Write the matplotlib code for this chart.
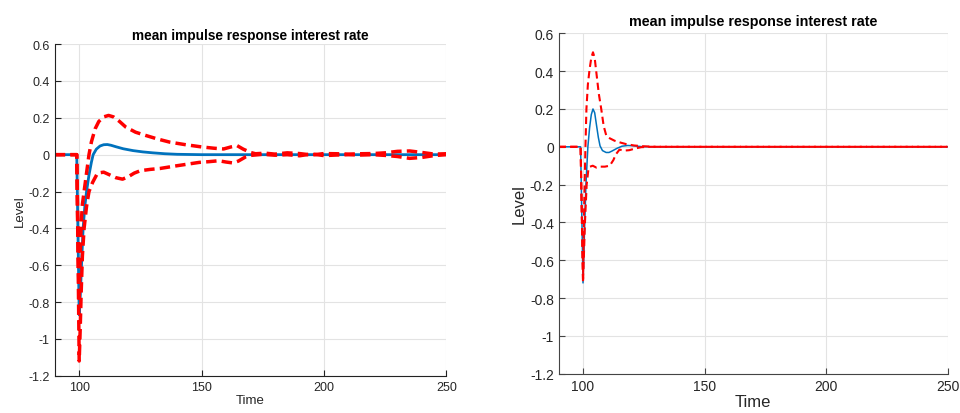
import matplotlib
matplotlib.use('Agg')
import matplotlib.pyplot as plt

BLUE = '#0072BD'
RED = '#FF0000'

# left panel
left_mean_t = [90, 99, 100, 100.5, 101, 101.6, 102.3, 103, 104, 105, 105.7, 107, 108.5, 110,
               111.5, 113, 115, 118, 122, 126, 130, 135, 140, 150, 250]
left_mean = [0, 0, -0.87, -0.75, -0.58, -0.4, -0.28, -0.2, -0.11, -0.04, 0, 0.03, 0.047, 0.054,
             0.055, 0.051, 0.043, 0.032, 0.022, 0.015, 0.01, 0.005, 0.002, 0.0, 0.0]

left_upper_t = [90, 99, 99.6, 100, 100.4, 100.8, 101.3, 102, 103, 104, 105, 106.5, 108, 110, 112,
                114, 116.5, 119, 123, 127, 132, 137, 143, 150, 155, 159, 162, 164.5, 167, 170,
                172, 176, 180, 185, 190, 195, 200, 205, 210, 215, 220, 225, 230, 235, 240, 245, 250]
left_upper = [0, 0, -0.55, -0.8, -0.55, -0.38, -0.27, -0.2, -0.1, 0, 0.07, 0.14, 0.18, 0.205, 0.213,
              0.205, 0.18, 0.15, 0.122, 0.105, 0.085, 0.068, 0.055, 0.042, 0.035, 0.031, 0.042, 0.049,
              0.03, 0.012, 0.005, 0.008, 0.003, 0.01, 0.006, -0.002, 0.006, 0.005, 0.003, 0.005,
              0.006, 0.01, 0.018, 0.02, 0.012, 0.003, 0.005]

left_lower_t = [90, 99, 99.5, 100, 100.4, 100.8, 101.3, 102, 103, 104, 105.5, 107.5, 110, 112.5,
                115, 117.7, 120, 122.5, 125, 129, 133, 140, 145, 149, 153, 157, 160, 162.8, 165,
                168, 170, 175, 180, 185, 190, 195, 200, 205, 210, 215, 220, 225, 230, 235, 240, 245, 250]
left_lower = [0, 0, -0.5, -1.12, -0.95, -0.75, -0.55, -0.4, -0.28, -0.2, -0.15, -0.1, -0.095, -0.11,
              -0.125, -0.133, -0.12, -0.1, -0.087, -0.08, -0.075, -0.06, -0.05, -0.042, -0.038,
              -0.033, -0.04, -0.045, -0.035, -0.012, -0.004, 0.002, -0.003, 0, -0.006, 0.004,
              -0.005, -0.002, 0, -0.002, 0, -0.004, -0.01, -0.02, -0.015, -0.005, 0]

# right panel
right_mean_t = [90, 99, 100, 100.6, 101.2, 102, 102.7, 103.4, 104.1, 104.8, 105.6, 106.3, 107, 108,
                109.5, 110.7, 112, 114, 116, 118.4, 121, 124, 130, 250]
right_mean = [0, 0, -0.72, -0.45, -0.2, 0, 0.1, 0.17, 0.2, 0.18, 0.11, 0.05, 0.005, -0.02,
              -0.03, -0.03, -0.022, -0.008, 0.003, 0.007, 0.005, 0.001, 0, 0]

right_upper_t = [90, 99, 100, 100.5, 101, 101.4, 102, 102.7, 103.4, 104.1, 104.8, 105.6, 106.5,
                 107.5, 108.5, 109.6, 111, 113, 115.5, 117.8, 121, 124.6, 130, 250]
right_upper = [0, 0, -0.7, -0.3, 0, 0.2, 0.33, 0.41, 0.47, 0.5, 0.47, 0.38, 0.28, 0.2, 0.11,
               0.058, 0.045, 0.032, 0.022, 0.014, 0.007, 0.003, 0, 0]

right_lower_t = [90, 99, 100, 100.8, 101.5, 102.2, 102.7, 104, 105.5, 107, 109, 111, 112.5, 113.5,
                 115, 117, 119, 121.8, 124, 128, 250]
right_lower = [0, 0, -0.72, -0.4, -0.2, -0.12, -0.106, -0.1, -0.11, -0.105, -0.105, -0.1, -0.07,
               -0.04, -0.015, -0.02, -0.018, -0.008, -0.002, 0, 0]

yticks = [-1.2, -1, -0.8, -0.6, -0.4, -0.2, 0, 0.2, 0.4, 0.6]
ytick_labels = ['-1.2', '-1', '-0.8', '-0.6', '-0.4', '-0.2', '0', '0.2', '0.4', '0.6']
xticks = [100, 150, 200, 250]

fig = plt.figure(figsize=(9.6, 4.14), dpi=100)
ax1 = fig.add_axes([0.057, 0.090, 0.408, 0.801])
ax2 = fig.add_axes([0.582, 0.095, 0.405, 0.822])

FAM = ['Liberation Sans', 'DejaVu Sans']


def style(ax, tsize, lsize, titsize, tpad, spine_col):
    ax.set_xlim(90, 250)
    ax.set_ylim(-1.2, 0.6)
    ax.set_xticks(xticks)
    ax.set_yticks(yticks)
    ax.set_yticklabels(ytick_labels)
    ax.grid(True, color='#e3e3e3', linewidth=0.8)
    ax.set_axisbelow(True)
    for s in ['top', 'right']:
        ax.spines[s].set_visible(False)
    for s in ['left', 'bottom']:
        ax.spines[s].set_color(spine_col)
        ax.spines[s].set_linewidth(0.8)
    ax.tick_params(direction='in', length=4, colors=spine_col, labelcolor='#262626')
    for lab in ax.get_xticklabels() + ax.get_yticklabels():
        lab.set_family(FAM)
        lab.set_fontsize(tsize)
    ax.set_title('mean impulse response interest rate', family=FAM, fontsize=titsize,
                 fontweight='bold', pad=tpad)
    ax.set_xlabel('Time', family=FAM, fontsize=lsize, color='#262626', labelpad=1)
    ax.set_ylabel('Level', family=FAM, fontsize=lsize, color='#262626', labelpad=2)


ax1.plot(left_mean_t, left_mean, color=BLUE, lw=2.0)
ax1.plot(left_upper_t, left_upper, color=RED, lw=2.5, dashes=(3.0, 1.5))
ax1.plot(left_lower_t, left_lower, color=RED, lw=2.5, dashes=(3.0, 1.5))
style(ax1, 9, 9.5, 9.8, 4, '#222222')

ax2.plot(right_mean_t, right_mean, color=BLUE, lw=1.1)
ax2.plot(right_upper_t, right_upper, color=RED, lw=1.5, dashes=(3.5, 2.0))
ax2.plot(right_lower_t, right_lower, color=RED, lw=1.5, dashes=(3.5, 2.0))
style(ax2, 10, 12, 10.3, 6, '#444444')

fig.savefig('out.png', dpi=100)
